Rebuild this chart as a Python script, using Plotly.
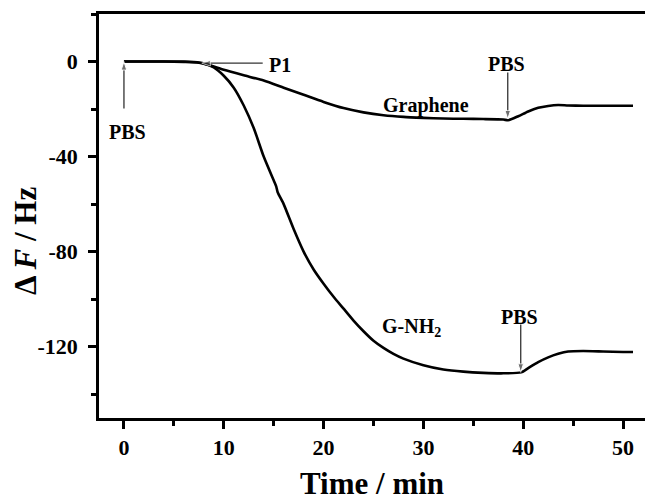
import plotly.graph_objects as go

# Graphene curve (time in min, frequency shift in Hz)
t_graphene = [0, 2, 4, 6, 7.5, 8.5, 10, 12, 14, 16, 18, 20, 22, 24, 26, 28, 30, 32, 34, 36, 38,
              38.5, 39.5, 40.5, 41.5, 42.5, 43.5, 44.5, 46, 48, 50, 51]
f_graphene = [0, 0, 0, -0.2, -0.5, -1.5, -3.5, -5.8, -8, -11, -14, -17, -19.6, -21.4, -22.6, -23.3,
              -23.7, -24, -24.1, -24.2, -24.4, -24.7, -23, -21, -19.5, -18.7, -18.3, -18.5, -18.6,
              -18.6, -18.6, -18.6]

# G-NH2 curve
t_gnh2 = [0, 2, 4, 6, 7, 8, 9, 10, 11, 12, 13, 14, 15, 15.25, 15.4, 16, 17, 18, 19, 20, 21, 22, 23,
          24, 25, 26, 27, 28, 30, 32, 34, 36, 38, 39.8, 40.5, 41.5, 42.5, 43.5, 44.5, 46, 48, 50, 51]
f_gnh2 = [0, 0, 0, 0, -0.2, -0.8, -2.5, -6, -11, -18.5, -28, -40, -50, -52.5, -55, -60, -70.5,
          -80, -87.5, -93.5, -99, -104, -109, -113.5, -117.5, -120.5, -123, -125, -127.8, -129.6,
          -130.5, -131, -131.2, -130.8, -129, -126.5, -124.5, -123, -122, -121.8, -122, -122.2,
          -122.2]

x_ticks = [0, 10, 20, 30, 40, 50]
x_tick_text = ["0", "10", "20", "30", "40", "50"]
y_ticks = [-120, -80, -40, 0]
y_tick_text = ["-120", "-80", "-40", "0"]

x_title = "Time / min"
y_title = "Δ <i>F</i> / Hz"

# labels: (text, x, y)
labels = [
    ("PBS", 0.4, -29.5),
    ("P1", 15.6, -1.3),
    ("Graphene", 30.3, -18.3),
    ("PBS", 38.3, -1.0),
    ("G-NH<sub>2</sub>", 28.8, -112.0),
    ("PBS", 39.6, -107.4),
]
# arrows: (tail_x, tail_y, head_x, head_y)
arrows = [
    (0, -19.8, 0, 0),
    (13.9, -0.7, 7.8, -0.7),
    (38.45, -4.6, 38.45, -24.2),
    (39.75, -110.7, 39.75, -130.8),
]

FONT = "Liberation Serif"

fig = go.Figure()
for tx, fy in [(t_graphene, f_graphene), (t_gnh2, f_gnh2)]:
    fig.add_trace(go.Scatter(x=tx, y=fy, mode="lines",
                             line=dict(color="black", width=2.6, shape="spline", smoothing=0.6),
                             showlegend=False, hoverinfo="skip"))

for tx_, ty_, hx, hy in arrows:
    fig.add_trace(go.Scatter(x=[tx_, hx], y=[ty_, hy], mode="lines+markers",
                             line=dict(color="#333333", width=1.3),
                             marker=dict(symbol="arrow", size=[0, 9], angleref="previous",
                                         color="#333333"),
                             showlegend=False, hoverinfo="skip"))

annos = []
for txt, x, y in labels:
    annos.append(dict(text=txt, x=x, y=y, xref="x", yref="y", showarrow=False,
                      font=dict(family=FONT, size=20, color="black", weight="bold"),
                      xanchor="center", yanchor="middle"))
annos.append(dict(text=x_title, x=0.5, y=(418 - 484) / 404, xref="paper", yref="paper",
                  showarrow=False, xanchor="center", yanchor="middle",
                  font=dict(family=FONT, size=31, color="black", weight="bold")))
annos.append(dict(text=y_title, x=(25 - 99) / 546, y=(418 - 241) / 404,
                  xref="paper", yref="paper", showarrow=False, textangle=-90,
                  xanchor="center", yanchor="middle",
                  font=dict(family=FONT, size=31, color="black", weight="bold")))

fig.update_layout(
    width=645, height=502,
    margin=dict(l=99, r=0, t=14, b=84),
    paper_bgcolor="white", plot_bgcolor="white",
    annotations=annos,
    xaxis=dict(range=[-2.5, 52.2], tickvals=x_ticks, ticktext=x_tick_text, ticks="outside",
               ticklen=8, tickwidth=2.5,
               showline=True, linewidth=2.6, linecolor="black", mirror=True, showgrid=False,
               zeroline=False, tickcolor="black",
               tickfont=dict(family=FONT, size=22, color="black", weight="bold"),
               minor=dict(ticks="outside", dtick=5, tick0=0, ticklen=5, tickwidth=2.5,
                          tickcolor="black", showgrid=False)),
    yaxis=dict(range=[-150, 20], tickvals=y_ticks, ticktext=y_tick_text, ticks="outside",
               ticklen=8, tickwidth=2.5,
               showline=True, linewidth=2.6, linecolor="black", mirror=False, showgrid=False,
               zeroline=False, tickcolor="black", ticklabelstandoff=6,
               tickfont=dict(family=FONT, size=22, color="black", weight="bold"),
               minor=dict(ticks="outside", dtick=20, tick0=0, ticklen=5, tickwidth=2.5,
                          tickcolor="black", showgrid=False)),
)

fig.write_html("out.html")
